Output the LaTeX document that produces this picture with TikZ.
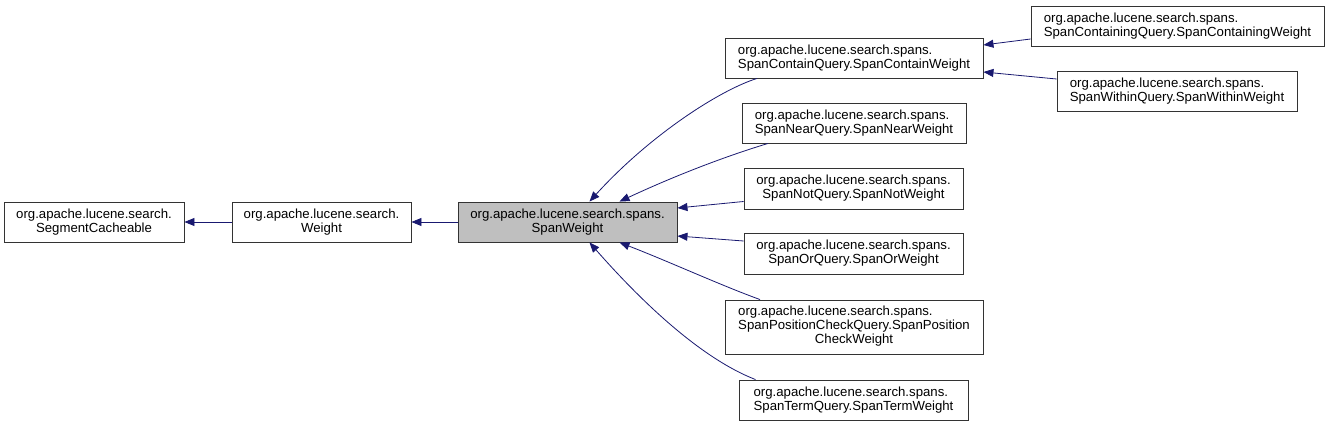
\documentclass[tikz,border=0pt]{standalone}
\usepackage{fontspec}
\setmainfont{Liberation Sans}
\usetikzlibrary{arrows.meta}
\definecolor{edgeblue}{RGB}{25,25,112}
\definecolor{boxgray}{RGB}{191,191,191}
\begin{document}
\begin{tikzpicture}[x=1pt,y=-1pt,
  cls/.style={draw=black!80, line width=0.9pt, rectangle, inner sep=0pt,
    font=\fontsize{13.2}{14}\selectfont, align=center},
  lcls/.style={cls, align=left},
  inh/.style={draw=edgeblue, line width=0.8pt, -{Triangle[length=10pt,width=8pt]}}]
\useasboundingbox (0,0) rectangle (1329,427);
\node[cls, minimum width=180pt, minimum height=40pt] (seg) at (94,222) {org.apache.lucene.search.\\SegmentCacheable};
\node[cls, minimum width=179pt, minimum height=40pt] (weight) at (321.5,222) {org.apache.lucene.search.\\Weight};
\node[cls, fill=boxgray, minimum width=219pt, minimum height=40pt] (spanw) at (567.5,222) {org.apache.lucene.search.spans.\\SpanWeight};
\node[lcls, minimum width=258pt, minimum height=40pt] (contain) at (854,58) {org.apache.lucene.search.spans.\\SpanContainQuery.SpanContainWeight};
\node[lcls, minimum width=224pt, minimum height=40pt] (near) at (854,123) {org.apache.lucene.search.spans.\\SpanNearQuery.SpanNearWeight};
\node[cls, minimum width=219pt, minimum height=41pt] (not) at (853.5,188.5) {org.apache.lucene.search.spans.\\SpanNotQuery.SpanNotWeight};
\node[cls, minimum width=219pt, minimum height=41pt] (or) at (853.5,253.5) {org.apache.lucene.search.spans.\\SpanOrQuery.SpanOrWeight};
\node[cls, minimum width=258pt, minimum height=54pt] (pos) at (854,327) {\begin{tabular}{@{}l@{}}org.apache.lucene.search.spans.\\SpanPositionCheckQuery.SpanPosition\\\multicolumn{1}{@{}c@{}}{CheckWeight}\end{tabular}};
\node[lcls, minimum width=229pt, minimum height=40pt] (term) at (853.5,400) {org.apache.lucene.search.spans.\\SpanTermQuery.SpanTermWeight};
\node[lcls, minimum width=293pt, minimum height=40pt] (containing) at (1177.5,26) {org.apache.lucene.search.spans.\\SpanContainingQuery.SpanContainingWeight};
\node[lcls, minimum width=240pt, minimum height=40pt] (within) at (1177,91) {org.apache.lucene.search.spans.\\SpanWithinQuery.SpanWithinWeight};

\draw[inh] (weight.west) -- (seg.east);
\draw[inh] (spanw.west) -- (weight.east);
\draw[inh] ([yshift=-13pt]containing.west) -- ([yshift=13pt]contain.east);
\draw[inh] ([yshift=12pt]within.west) -- ([yshift=-14pt]contain.east);
\draw[inh] ([xshift=-97pt]contain.south) .. controls (720,90) and (650,135) .. ([xshift=22pt]spanw.north);
\draw[inh] ([xshift=-86pt]near.south) .. controls (720,158) and (670,178) .. ([xshift=52pt]spanw.north);
\draw[inh] ([yshift=-13pt]not.west) -- ([yshift=14pt]spanw.east);
\draw[inh] ([yshift=12.5pt]or.west) -- ([yshift=-14pt]spanw.east);
\draw[inh] ([xshift=-94pt]pos.north) .. controls (720,285) and (670,262) .. ([xshift=52pt]spanw.south);
\draw[inh] ([xshift=-98pt]term.north) .. controls (700,358) and (640,300) .. ([xshift=22pt]spanw.south);
\end{tikzpicture}
\end{document}
